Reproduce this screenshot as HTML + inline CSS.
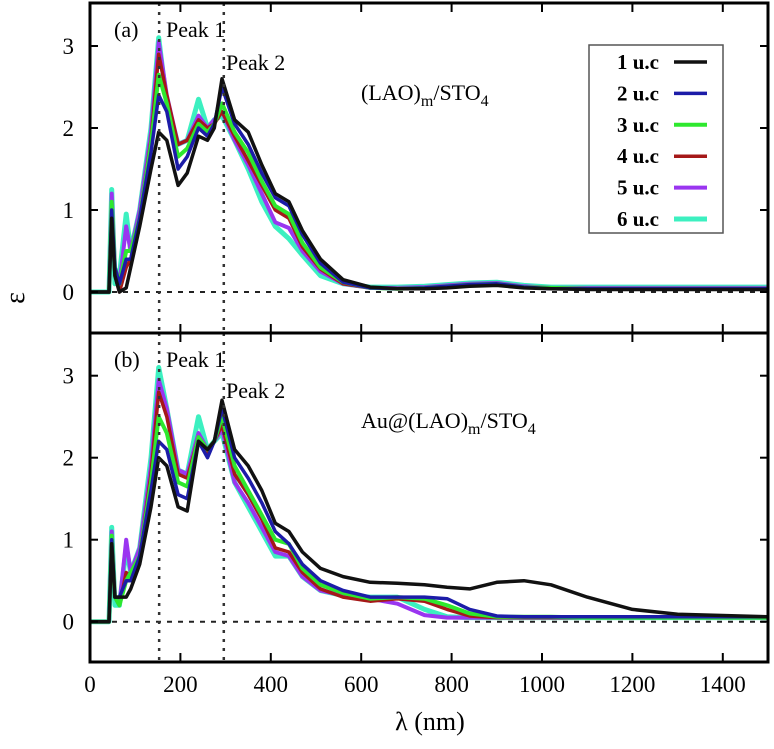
<!DOCTYPE html>
<html><head><meta charset="utf-8"><style>
html,body{margin:0;padding:0;background:#fff;}
svg text{font-family:"Liberation Serif","DejaVu Serif",serif;}
</style></head><body>
<svg id="chart" width="774" height="744" viewBox="0 0 774 744" font-family="Liberation Serif, serif" xmlns="http://www.w3.org/2000/svg"></svg>
<script>
const wavelengths=[0,42,48,55,65,80,90,110,135,152,170,195,215,240,260,275,292,320,350,380,410,440,470,510,560,620,680,740,790,840,900,960,1020,1100,1200,1300,1500];
const seriesNames=["1 u.c","2 u.c","3 u.c","4 u.c","5 u.c","6 u.c"];
const topS1=[0,0,0.9,0.2,0,0.05,0.3,0.8,1.5,1.95,1.85,1.3,1.45,1.9,1.85,2.0,2.6,2.1,1.95,1.55,1.2,1.1,0.75,0.4,0.15,0.06,0.04,0.04,0.05,0.07,0.08,0.05,0.04,0.03,0.03,0.03,0.03];
const topS2=[0,0,1.0,0.3,0.1,0.4,0.4,0.9,1.7,2.4,2.2,1.5,1.65,2.0,1.9,2.05,2.5,2.05,1.8,1.45,1.15,1.05,0.7,0.35,0.12,0.05,0.04,0.05,0.07,0.09,0.1,0.06,0.04,0.04,0.04,0.04,0.04];
const topS3=[0,0,1.1,0.3,0.1,0.5,0.5,0.9,1.8,2.65,2.3,1.65,1.75,2.05,1.95,2.05,2.3,1.95,1.7,1.35,1.05,0.95,0.6,0.3,0.12,0.05,0.04,0.05,0.07,0.09,0.1,0.06,0.05,0.04,0.04,0.04,0.04];
const topS4=[0,0,1.0,0.2,0,0.3,0.4,0.9,1.85,2.9,2.4,1.8,1.85,2.1,2.0,2.05,2.2,1.9,1.6,1.3,1.0,0.9,0.55,0.28,0.1,0.05,0.04,0.05,0.06,0.08,0.09,0.06,0.05,0.04,0.04,0.04,0.04];
const topS5=[0,0,1.2,0.3,0.1,0.8,0.5,1.0,1.95,3.05,2.4,1.8,1.85,2.15,2.0,2.1,2.2,1.85,1.55,1.2,0.85,0.78,0.5,0.25,0.1,0.05,0.05,0.06,0.08,0.1,0.11,0.07,0.05,0.05,0.05,0.05,0.05];
const topS6=[0,0,1.25,0.1,0.2,0.95,0.5,1.0,2.0,3.1,2.3,1.8,1.85,2.35,2.0,2.1,2.15,1.85,1.5,1.1,0.8,0.65,0.45,0.2,0.1,0.06,0.06,0.07,0.09,0.11,0.12,0.08,0.06,0.06,0.06,0.06,0.06];
const botS1=[0,0,0.95,0.3,0.3,0.3,0.4,0.7,1.4,2.0,1.9,1.4,1.35,2.2,2.1,2.2,2.7,2.1,1.9,1.6,1.2,1.1,0.85,0.65,0.55,0.48,0.47,0.45,0.42,0.4,0.48,0.5,0.45,0.3,0.15,0.09,0.06];
const botS2=[0,0,1.0,0.3,0.3,0.5,0.5,0.8,1.6,2.2,2.1,1.55,1.5,2.2,2.0,2.2,2.6,2.0,1.75,1.45,1.1,0.95,0.7,0.5,0.38,0.3,0.3,0.3,0.28,0.15,0.07,0.06,0.06,0.06,0.06,0.06,0.06];
const botS3=[0,0,1.05,0.3,0.2,0.5,0.6,0.8,1.7,2.5,2.3,1.7,1.65,2.25,2.1,2.2,2.5,1.9,1.6,1.3,1.0,0.95,0.65,0.45,0.35,0.28,0.3,0.28,0.2,0.1,0.06,0.06,0.06,0.05,0.05,0.05,0.05];
const botS4=[0,0,1.0,0.3,0.2,0.6,0.55,0.8,1.8,2.8,2.5,1.8,1.75,2.25,2.05,2.2,2.4,1.8,1.55,1.25,0.9,0.85,0.6,0.4,0.3,0.25,0.28,0.25,0.15,0.07,0.05,0.05,0.05,0.05,0.05,0.05,0.05];
const botS5=[0,0,1.1,0.3,0.2,1.0,0.6,0.9,1.9,2.95,2.6,1.85,1.8,2.3,2.1,2.2,2.35,1.7,1.45,1.15,0.85,0.8,0.55,0.38,0.32,0.28,0.22,0.08,0.05,0.05,0.05,0.05,0.05,0.05,0.05,0.05,0.05];
const botS6=[0,0,1.15,0.2,0.2,0.9,0.6,0.9,2.0,3.1,2.6,1.85,1.8,2.5,2.1,2.2,2.3,1.7,1.4,1.1,0.8,0.8,0.55,0.38,0.32,0.3,0.3,0.15,0.06,0.05,0.05,0.05,0.05,0.05,0.05,0.05,0.05];
const xTicks=[0,200,400,600,800,1000,1200,1400];
const yTicks=[0,1,2,3];
const peakLines=[153,296];

const NS="http://www.w3.org/2000/svg";
const svg=document.getElementById("chart");
const FF="Liberation Serif, DejaVu Serif, serif";
const colors=["#111111","#1c1ca8","#2ee82e","#a51818","#9a35f0","#3cf0c0"];
const widths=[3.5,3.5,4,3.5,4,5];
const X0=90,X1=768;
const xs=v=>X0+v*0.452;
const panels=[{top:3,bot:333,zero:292,series:[topS1,topS2,topS3,topS4,topS5,topS6],tag:"(a)",pre:"",ty:100,p2y:70,p1y:37,name:"panel-a"},
{top:333,bot:662,zero:621.7,series:[botS1,botS2,botS3,botS4,botS5,botS6],tag:"(b)",pre:"Au@",ty:428,p2y:398,p1y:367,name:"panel-b"}];
function mk(tag,attrs,parent){const e=document.createElementNS(NS,tag);for(const k in attrs)e.setAttribute(k,attrs[k]);if(tag==="text")e.setAttribute("font-family",FF);(parent||svg).appendChild(e);return e;}
panels.forEach(p=>{
  const g=mk("g",{});
  
  
  const ys=v=>p.zero-v*82;
  const zl=mk("line",{x1:X0,x2:X1,y1:ys(0),y2:ys(0),stroke:"#222","stroke-width":2,"stroke-dasharray":"5,6"},g);
  
  
  for(let i=5;i>=0;i--){
    const d=wavelengths.map((w,j)=>(j?"L":"M")+xs(w).toFixed(1)+","+ys(p.series[i][j]).toFixed(1)).join(" ");
    const path=mk("path",{d:d,fill:"none",stroke:colors[i],"stroke-width":widths[i],"stroke-linejoin":"round"},g);
    
    
  }
  peakLines.forEach((v,k)=>{
    const l=mk("line",{x1:xs(v),x2:xs(v),y1:p.top,y2:p.bot,stroke:"#333","stroke-width":2.5,"stroke-dasharray":"3,6"},g);
    
    
  });
  const fr=mk("rect",{x:X0,y:p.top,width:X1-X0,height:p.bot-p.top,fill:"none",stroke:"#000","stroke-width":3},g);
  
  
  yTicks.forEach(t=>{
    mk("line",{x1:X0,x2:X0+8,y1:ys(t),y2:ys(t),stroke:"#000","stroke-width":2},g);
    mk("line",{x1:X1-8,x2:X1,y1:ys(t),y2:ys(t),stroke:"#000","stroke-width":2},g);
    const tx=mk("text",{x:74,y:ys(t)+8,"font-size":23,"text-anchor":"end"},g);
    tx.textContent=t;
    
    
  });
  xTicks.forEach(t=>{
    mk("line",{x1:xs(t),x2:xs(t),y1:p.bot,y2:p.bot-9,stroke:"#000","stroke-width":2},g);
    mk("line",{x1:xs(t),x2:xs(t),y1:p.top,y2:p.top+9,stroke:"#000","stroke-width":2},g);
  });
  const tg=mk("text",{x:114,y:p.p1y,"font-size":22},g);tg.textContent=p.tag;
  
  
  const p1=mk("text",{x:166,y:p.p1y,"font-size":22},g);p1.textContent="Peak 1";
  
  
  const p2=mk("text",{x:226,y:p.p2y,"font-size":22},g);p2.textContent="Peak 2";
  
  
  const tt=mk("text",{x:361,y:p.ty,"font-size":22},g);
  tt.innerHTML=p.pre+'(LAO)<tspan font-size="16" dy="6">m</tspan><tspan dy="-6">/STO</tspan><tspan font-size="16" dy="6">4</tspan>';
  
  
});
xTicks.forEach(t=>{
  const tx=mk("text",{x:xs(t),y:692,"font-size":23,"text-anchor":"middle"});
  tx.textContent=t;
  
  
});
const xl=mk("text",{x:430,y:730,"font-size":26,"text-anchor":"middle"});
xl.textContent="λ (nm)";


const yl=mk("text",{x:24,y:298,"font-size":28,"text-anchor":"middle",transform:"rotate(-90 24 298)"});
yl.textContent="ε";


const lg=mk("g",{});


mk("rect",{x:589,y:45,width:134,height:188,fill:"#fff",stroke:"#555","stroke-width":1.5},lg);
seriesNames.forEach((n,i)=>{
  const y=62+i*31.4;
  const t=mk("text",{x:659,y:y+7,"font-size":21,"text-anchor":"end","font-weight":"bold"},lg);
  t.textContent=n;
  
  
  const l=mk("line",{x1:674,x2:707,y1:y,y2:y,stroke:colors[i],"stroke-width":widths[i]},lg);
  
  
});
</script>
</body></html>
